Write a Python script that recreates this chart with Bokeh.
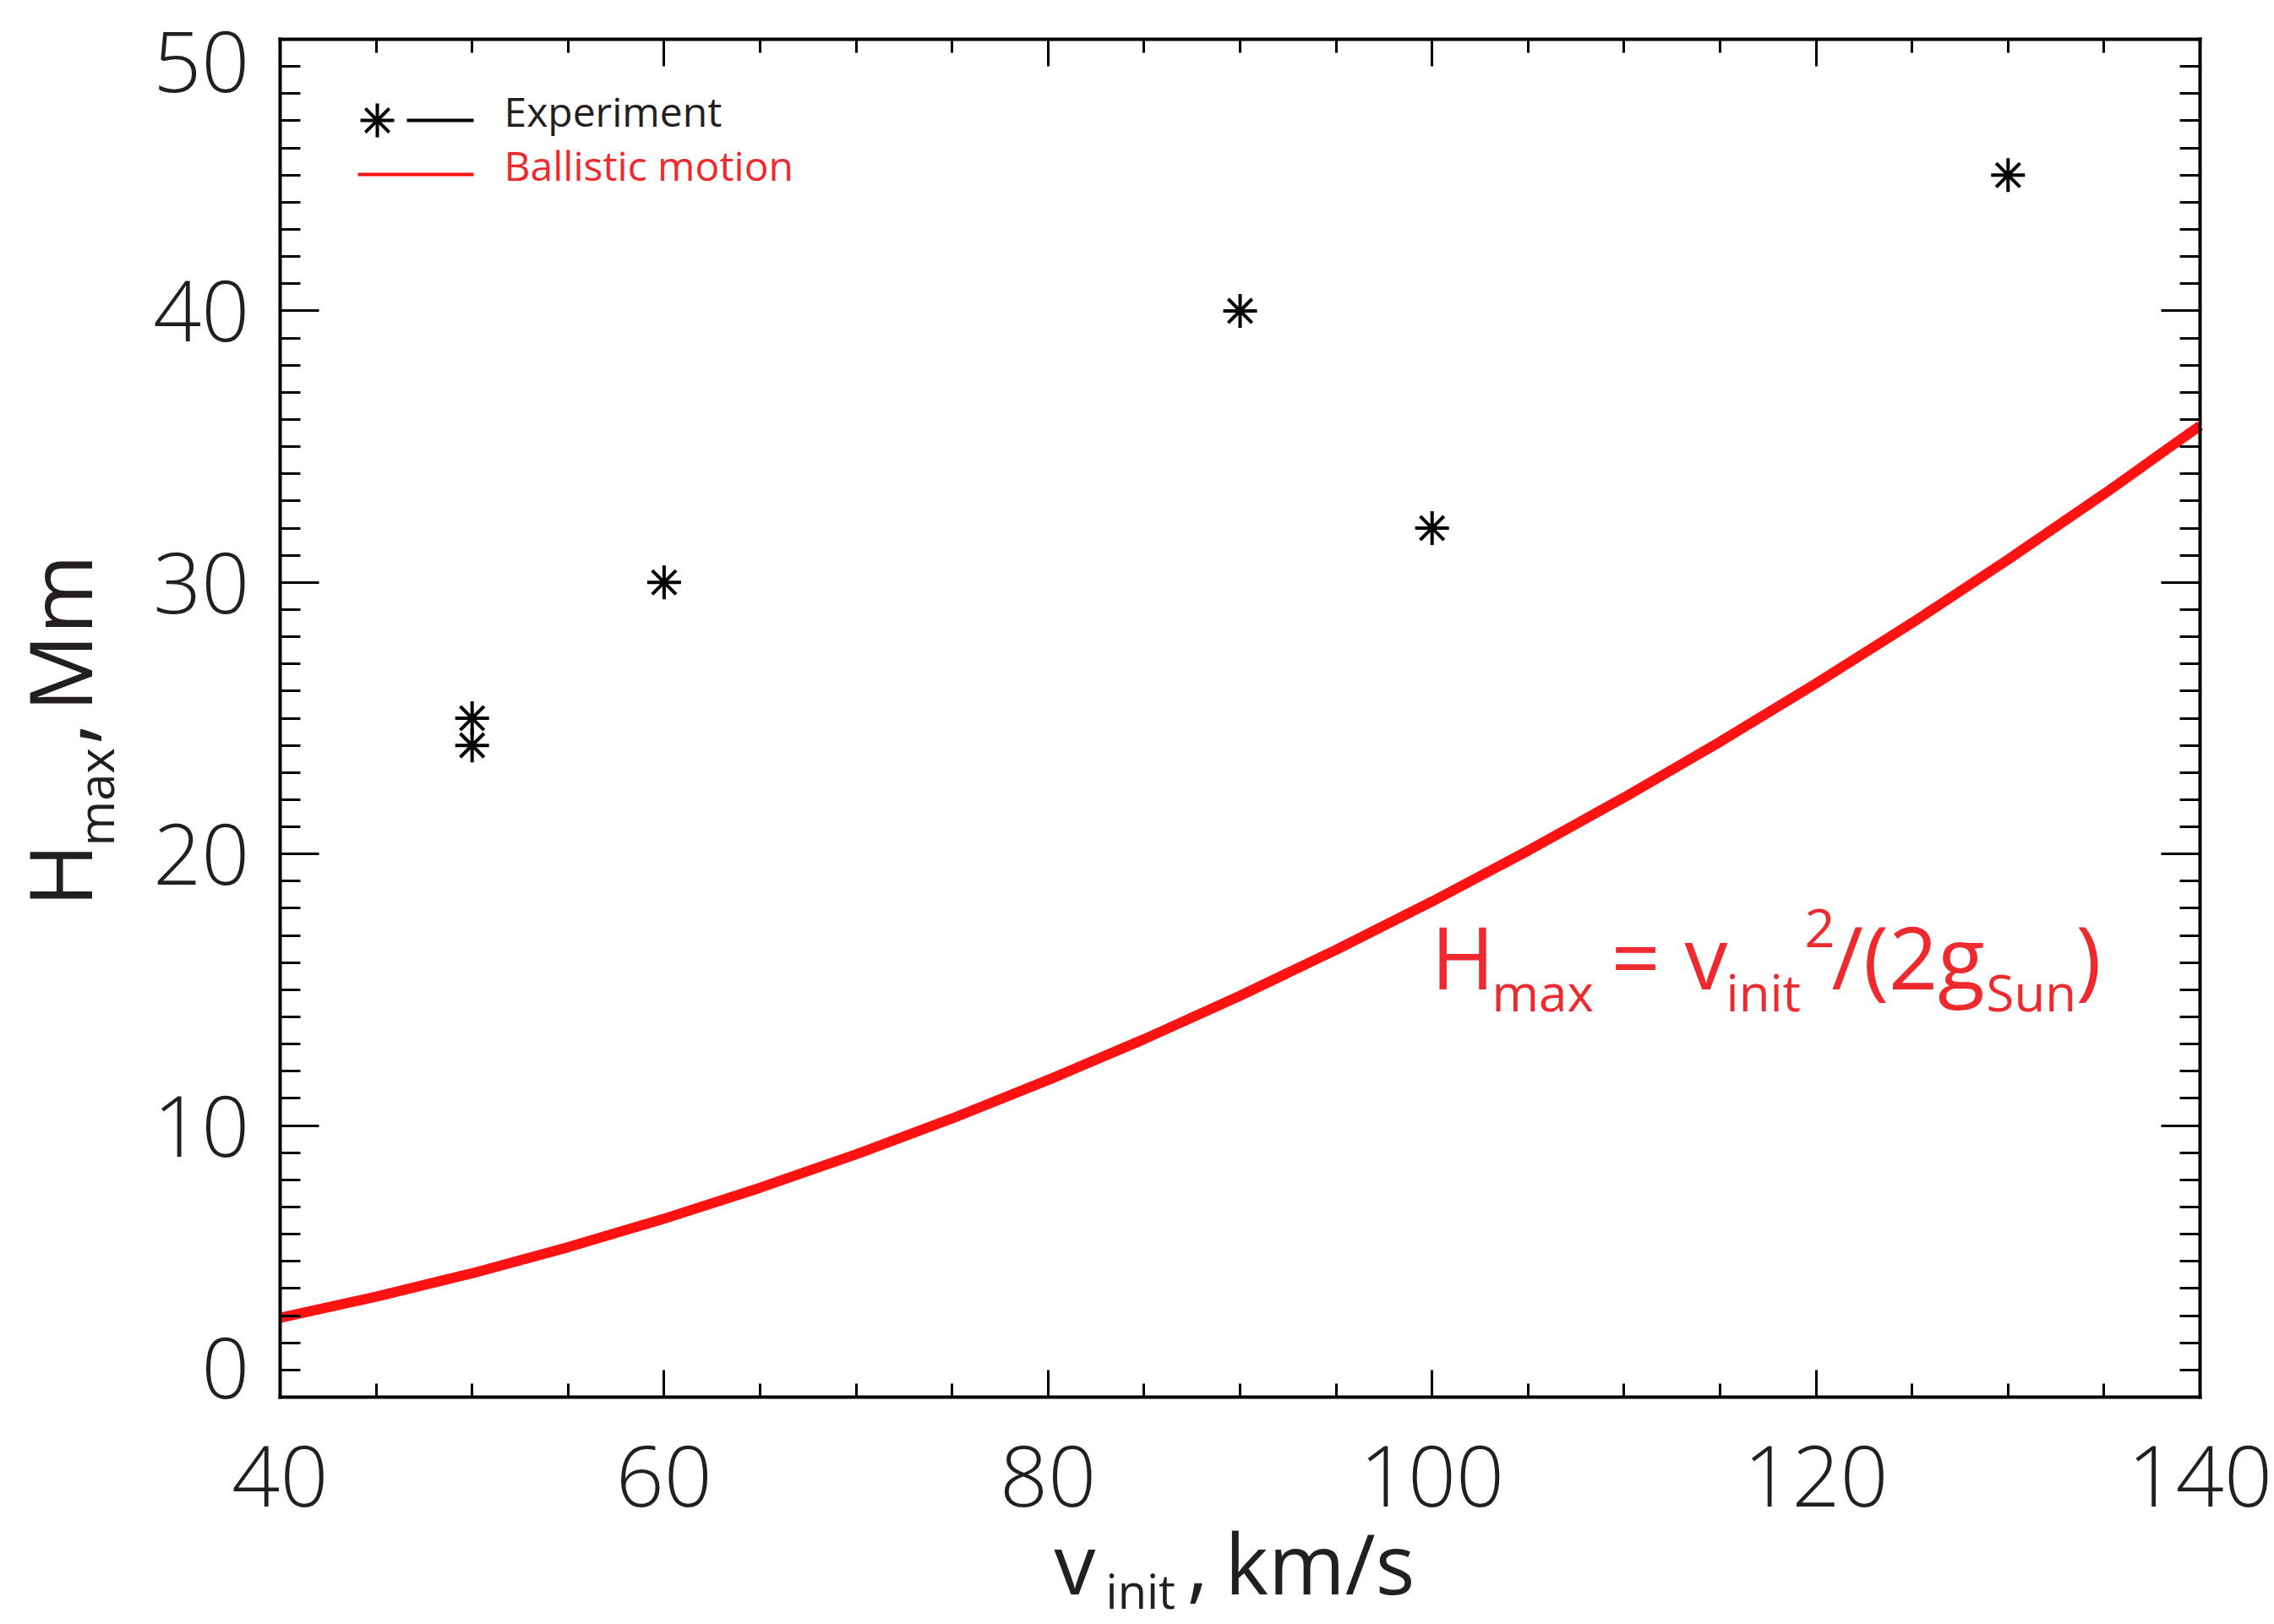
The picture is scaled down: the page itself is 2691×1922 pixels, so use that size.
import math
from bokeh.plotting import figure
from bokeh.models import Range1d, LinearAxis, SingleIntervalTicker, FixedTicker, Label
from bokeh.embed import file_html
from bokeh.resources import INLINE

# ---------------- data ----------------
v_exp = [50, 50, 60, 90, 100, 130]          # km/s
h_exp = [25, 24, 30, 40, 32, 45]            # Mm

v_ballistic = [40, 45, 50, 55, 60, 65, 70, 75, 80, 85, 90,
               95, 100, 105, 110, 115, 120, 125, 130, 135, 140]
h_ballistic = [2.92, 3.70, 4.56, 5.52, 6.57, 7.71, 8.94, 10.26, 11.68, 13.18, 14.78,
               16.47, 18.25, 20.12, 22.08, 24.13, 26.28, 28.51, 30.84, 33.26, 35.77]

x_lim = (40, 140)
y_lim = (0, 50)
x_major, x_minor_n = 20, 4
y_major, y_minor_n = 10, 10
y_inner_ticks = [10, 20, 30, 40]
y_end_labels = ["0", "50"]

legend_labels = ["Experiment", "Ballistic motion"]

# ---------------- styling ----------------
FONT = "Open Sans"
INK = "#231F20"
RED_LINE = "#FF1212"
RED_TEXT = "#EE2A2E"
BASE_K = 0.4   # correction from anchor to alphabetic baseline (fraction of font size)

W, H = 2691, 1922
# edges of the drawn plot box, in page pixels
FL, FR, FT, FB = 331, 2603, 46, 1653


def dx(px):
    return x_lim[0] + (px - FL) / (FR - FL) * (x_lim[1] - x_lim[0])


def dy(py):
    return y_lim[1] - (py - FT) / (FB - FT) * (y_lim[1] - y_lim[0])


# the frame spans the whole canvas so that titles outside the box are not clipped;
# the visible box is drawn by four axes fixed at the data limits
p = figure(width=W, height=H, output_backend="svg", toolbar_location=None,
           x_range=Range1d(dx(0), dx(W)), y_range=Range1d(dy(H), dy(0)),
           x_axis_location=None, y_axis_location=None,
           min_border_left=0, min_border_right=0, min_border_top=0, min_border_bottom=0)
p.title.visible = False
p.outline_line_color = None
p.xgrid.visible = False
p.ygrid.visible = False
p.background_fill_color = "white"
p.border_fill_color = "white"


def style_axis(ax, tick_major, tick_minor, show_labels, standoff):
    ax.axis_line_width = 4
    ax.axis_line_color = "black"
    ax.axis_line_cap = "square"
    ax.major_tick_in = tick_major
    ax.major_tick_out = 0
    ax.minor_tick_in = tick_minor
    ax.minor_tick_out = 0
    ax.major_tick_line_width = 3
    ax.minor_tick_line_width = 3
    ax.major_tick_line_color = "black"
    ax.minor_tick_line_color = "black"
    if show_labels:
        ax.major_label_text_font = FONT
        ax.major_label_text_font_size = "100px"
        ax.major_label_text_color = INK
        ax.major_label_standoff = standoff
    else:
        ax.major_label_text_color = None
        ax.major_label_text_alpha = 0
    return ax


bottom = LinearAxis(fixed_location=y_lim[0], bounds=x_lim,
                    ticker=SingleIntervalTicker(interval=x_major, num_minor_ticks=x_minor_n))
top = LinearAxis(fixed_location=y_lim[1], bounds=x_lim,
                 ticker=SingleIntervalTicker(interval=x_major, num_minor_ticks=x_minor_n))
left = LinearAxis(fixed_location=x_lim[0], bounds=y_lim,
                  ticker=FixedTicker(ticks=y_inner_ticks,
                                     minor_ticks=[t for t in range(y_lim[0], y_lim[1] + 1) if t % y_major]))
right = LinearAxis(fixed_location=x_lim[1], bounds=y_lim,
                   ticker=SingleIntervalTicker(interval=y_major, num_minor_ticks=y_minor_n))
style_axis(bottom, 32, 16, True, 56)
style_axis(top, 32, 16, False, 0)
style_axis(left, 46, 24, True, 36)
style_axis(right, 46, 24, False, 0)
p.add_layout(bottom, "below")
p.add_layout(top, "above")
p.add_layout(left, "left")
p.add_layout(right, "right")

# end labels of the y axis sit inside the box edges, as in the original
for lab, py in zip(y_end_labels, [1618, 72]):
    p.add_layout(Label(x=dx(295), y=dy(py), text=lab, text_font=FONT, text_font_size="100px",
                       text_color=INK, text_align="right", text_baseline="middle"))

# ballistic curve
p.line(v_ballistic, h_ballistic, line_color=RED_LINE, line_width=12)

# experiment points (8-spoke asterisks)
p.scatter(v_exp, h_exp, marker="cross", size=40, line_color="black", line_width=4)
p.scatter(v_exp, h_exp, marker="x", size=40, line_color="black", line_width=4)


def txt(s, px, py, size, color=INK, rotated=False):
    if rotated:
        px = px - BASE_K * size
        angle = math.pi / 2
    else:
        py = py - BASE_K * size
        angle = 0.0
    p.add_layout(Label(x=dx(px), y=dy(py), text=s, text_font=FONT,
                       text_font_size=f"{size}px", text_color=color,
                       text_align="left", text_baseline="alphabetic",
                       angle=angle, angle_units="rad"))


# ---------------- legend (top left) ----------------
p.scatter([dx(446)], [dy(142)], marker="cross", size=40, line_color="black", line_width=4)
p.scatter([dx(446)], [dy(142)], marker="x", size=40, line_color="black", line_width=4)
p.line([dx(481), dx(560)], [dy(142), dy(142)], line_color="black", line_width=4)
p.line([dx(423), dx(560)], [dy(206), dy(206)], line_color=RED_LINE, line_width=4)
txt(legend_labels[0], 596, 150, 48, INK)
txt(legend_labels[1], 596, 214, 48, RED_TEXT)

# ---------------- equation ----------------
txt("H", 1693, 1172, 102, RED_TEXT)
txt("max", 1765, 1197, 60, RED_TEXT)
txt("=", 1906, 1172, 102, RED_TEXT)
txt("v", 1993, 1172, 102, RED_TEXT)
txt("init", 2042, 1197, 60, RED_TEXT)
txt("2", 2135, 1123, 63, RED_TEXT)
txt("/(2g", 2167, 1172, 102, RED_TEXT)
txt("Sun", 2350, 1197, 60, RED_TEXT)
txt(")", 2456, 1172, 102, RED_TEXT)

# ---------------- axis titles ----------------
# x axis: v_init, km/s
XB = 1888
txt("v", 1247, XB, 98)
txt("init", 1308, XB + 16, 56)
txt(",", 1404, XB, 98)
txt("km/s", 1449, XB, 98)

# y axis: H_max, Mm (rotated)
YB = 110
txt("H", YB, 1073, 102, INK, True)
txt("max", YB + 25, 1001, 58, INK, True)
txt(",", YB, 881, 102, INK, True)
txt("Mm", YB, 842, 102, INK, True)

open("out.html", "w").write(file_html(p, INLINE))
